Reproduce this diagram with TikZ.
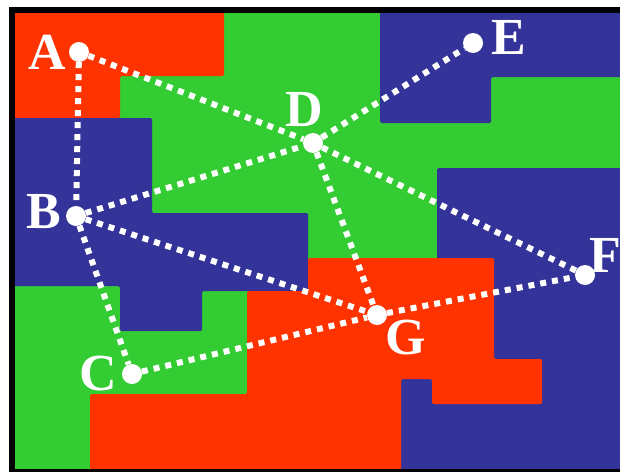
\documentclass[tikz,border=0pt]{standalone}
\usepackage{fontspec}
\setmainfont{Liberation Serif}
\usetikzlibrary{positioning}
\definecolor{mapred}{HTML}{FF3300}
\definecolor{mapgreen}{HTML}{33CC33}
\definecolor{mapblue}{HTML}{333399}

\begin{document}
\begin{tikzpicture}[
    x=1pt, y=-1pt,
    region/.style={rounded corners=1.5pt},
    vertex/.style={circle, fill=white, minimum size=20pt, inner sep=0pt},
    lbl/.style={text=white, inner sep=0pt, font=\fontsize{52}{52}\selectfont\bfseries},
    link/.style={white, line width=6pt, dash pattern=on 6pt off 6pt}
]
\useasboundingbox (0,0) rectangle (620,471);

% frame and regions
\fill[black] (9,7) rectangle (640,480);
\begin{scope}
\clip (15,13) rectangle (620,468);
\fill[mapgreen] (0,0) rectangle (640,480);
\fill[mapred, region] (10,8) -- (224,8) -- (224,76) -- (120,76) -- (120,118) -- (10,118) -- cycle;
\fill[mapblue, region] (10,118) -- (152,118) -- (152,213) -- (308,213) -- (308,291) -- (202,291)
    -- (202,331) -- (120,331) -- (120,286) -- (10,286) -- cycle;
\fill[mapblue, region] (380,8) -- (630,8) -- (630,77) -- (491,77) -- (491,123) -- (380,123) -- cycle;
\fill[mapblue, region] (437,168) rectangle (630,475);
\fill[mapblue] (401,379) rectangle (437,475);
\fill[mapred, region] (308,258) -- (494,258) -- (494,359) -- (542,359) -- (542,404) -- (432,404)
    -- (432,379) -- (401,379) -- (401,475) -- (90,475) -- (90,394) -- (247,394) -- (247,291)
    -- (308,291) -- cycle;
\end{scope}

% vertices
\node[vertex] (A) at (79,52) {};
\node[vertex] (B) at (76,216) {};
\node[vertex] (C) at (132,374) {};
\node[vertex] (D) at (313,143) {};
\node[vertex] (E) at (473,43) {};
\node[vertex] (F) at (585,275) {};
\node[vertex] (G) at (377,315) {};

% adjacencies
\draw[link] (A) -- (B);
\draw[link] (A) -- (D);
\draw[link] (B) -- (D);
\draw[link] (B) -- (C);
\draw[link] (B) -- (G);
\draw[link] (C) -- (G);
\draw[link] (D) -- (E);
\draw[link] (D) -- (F);
\draw[link] (D) -- (G);
\draw[link] (G) -- (F);

\node[lbl, left=3pt of A] (lA) {A};
\node[lbl, left=4pt of B, yshift=4pt] (lB) {B};
\node[lbl, left=5pt of C] (lC) {C};
\node[lbl, above=6pt of D, xshift=-9pt] (lD) {D};
\node[lbl, right=8pt of E, yshift=6pt] (lE) {E};
\node[lbl, above right=-5pt and -3pt of F] (lF) {F};
\node[lbl, below right=-2pt and 1pt of G] (lG) {G};

\end{tikzpicture}
\end{document}
